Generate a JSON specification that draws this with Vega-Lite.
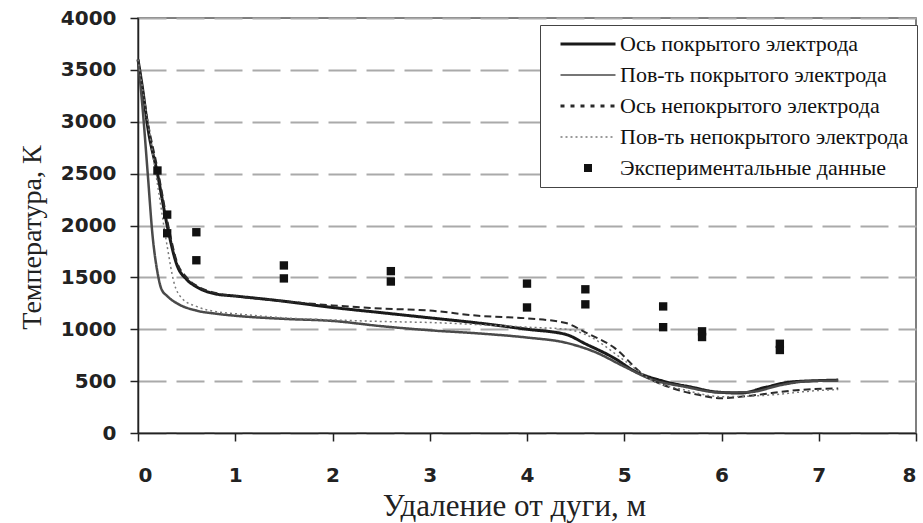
{
  "$schema": "https://vega.github.io/schema/vega-lite/v6.json",
  "autosize": {"type": "none"},
  "width": 778,
  "height": 415,
  "padding": {"left": 138, "top": 18, "right": 7, "bottom": 90},
  "background": "white",
  "config": {
    "view": {"stroke": "#555", "strokeWidth": 1.5},
    "axis": {
      "labelFont": "DejaVu Sans",
      "labelFontWeight": "bold",
      "labelFontSize": 20,
      "labelColor": "#222",
      "titleFont": "Liberation Serif",
      "titleFontWeight": "normal",
      "titleFontSize": 28,
      "titleColor": "#222",
      "domainColor": "#222",
      "domainWidth": 1.5,
      "tickColor": "#222",
      "tickWidth": 1.5,
      "tickSize": 8
    }
  },
  "datasets": {
    "curves": [
      {"series": "Ось покрытого электрода", "x": 0, "T": 3600},
      {"series": "Ось покрытого электрода", "x": 0.05, "T": 3300},
      {"series": "Ось покрытого электрода", "x": 0.1, "T": 2950},
      {"series": "Ось покрытого электрода", "x": 0.2, "T": 2500},
      {"series": "Ось покрытого электрода", "x": 0.3, "T": 2000},
      {"series": "Ось покрытого электрода", "x": 0.4, "T": 1620},
      {"series": "Ось покрытого электрода", "x": 0.5, "T": 1480},
      {"series": "Ось покрытого электрода", "x": 0.6, "T": 1410},
      {"series": "Ось покрытого электрода", "x": 0.8, "T": 1340},
      {"series": "Ось покрытого электрода", "x": 1.0, "T": 1320},
      {"series": "Ось покрытого электрода", "x": 1.5, "T": 1270},
      {"series": "Ось покрытого электрода", "x": 2.0, "T": 1210},
      {"series": "Ось покрытого электрода", "x": 2.5, "T": 1160},
      {"series": "Ось покрытого электрода", "x": 3.0, "T": 1110},
      {"series": "Ось покрытого электрода", "x": 3.5, "T": 1060},
      {"series": "Ось покрытого электрода", "x": 4.0, "T": 1000},
      {"series": "Ось покрытого электрода", "x": 4.4, "T": 950},
      {"series": "Ось покрытого электрода", "x": 4.6, "T": 860},
      {"series": "Ось покрытого электрода", "x": 4.9, "T": 720},
      {"series": "Ось покрытого электрода", "x": 5.1, "T": 600},
      {"series": "Ось покрытого электрода", "x": 5.4, "T": 500},
      {"series": "Ось покрытого электрода", "x": 5.7, "T": 440},
      {"series": "Ось покрытого электрода", "x": 5.95, "T": 395},
      {"series": "Ось покрытого электрода", "x": 6.2, "T": 385},
      {"series": "Ось покрытого электрода", "x": 6.45, "T": 440},
      {"series": "Ось покрытого электрода", "x": 6.7, "T": 490},
      {"series": "Ось покрытого электрода", "x": 7.0, "T": 505},
      {"series": "Ось покрытого электрода", "x": 7.2, "T": 510},

      {"series": "Пов-ть покрытого электрода", "x": 0, "T": 3600},
      {"series": "Пов-ть покрытого электрода", "x": 0.05, "T": 3100},
      {"series": "Пов-ть покрытого электрода", "x": 0.1, "T": 2500},
      {"series": "Пов-ть покрытого электрода", "x": 0.15, "T": 1900},
      {"series": "Пов-ть покрытого электрода", "x": 0.2, "T": 1550},
      {"series": "Пов-ть покрытого электрода", "x": 0.24, "T": 1390},
      {"series": "Пов-ть покрытого электрода", "x": 0.3, "T": 1320},
      {"series": "Пов-ть покрытого электрода", "x": 0.4, "T": 1250},
      {"series": "Пов-ть покрытого электрода", "x": 0.6, "T": 1180},
      {"series": "Пов-ть покрытого электрода", "x": 0.8, "T": 1150},
      {"series": "Пов-ть покрытого электрода", "x": 1.0, "T": 1130},
      {"series": "Пов-ть покрытого электрода", "x": 1.5, "T": 1100},
      {"series": "Пов-ть покрытого электрода", "x": 2.0, "T": 1080},
      {"series": "Пов-ть покрытого электрода", "x": 2.5, "T": 1030},
      {"series": "Пов-ть покрытого электрода", "x": 3.0, "T": 990},
      {"series": "Пов-ть покрытого электрода", "x": 3.5, "T": 960},
      {"series": "Пов-ть покрытого электрода", "x": 4.0, "T": 920},
      {"series": "Пов-ть покрытого электрода", "x": 4.4, "T": 870},
      {"series": "Пов-ть покрытого электрода", "x": 4.7, "T": 780},
      {"series": "Пов-ть покрытого электрода", "x": 5.0, "T": 640},
      {"series": "Пов-ть покрытого электрода", "x": 5.3, "T": 510},
      {"series": "Пов-ть покрытого электрода", "x": 5.6, "T": 450},
      {"series": "Пов-ть покрытого электрода", "x": 6.0, "T": 390},
      {"series": "Пов-ть покрытого электрода", "x": 6.3, "T": 395},
      {"series": "Пов-ть покрытого электрода", "x": 6.6, "T": 460},
      {"series": "Пов-ть покрытого электрода", "x": 6.9, "T": 500},
      {"series": "Пов-ть покрытого электрода", "x": 7.2, "T": 505},

      {"series": "Ось непокрытого электрода", "x": 0, "T": 3600},
      {"series": "Ось непокрытого электрода", "x": 0.05, "T": 3300},
      {"series": "Ось непокрытого электрода", "x": 0.1, "T": 3000},
      {"series": "Ось непокрытого электрода", "x": 0.2, "T": 2550},
      {"series": "Ось непокрытого электрода", "x": 0.3, "T": 2050},
      {"series": "Ось непокрытого электрода", "x": 0.4, "T": 1650},
      {"series": "Ось непокрытого электрода", "x": 0.5, "T": 1500},
      {"series": "Ось непокрытого электрода", "x": 0.6, "T": 1420},
      {"series": "Ось непокрытого электрода", "x": 0.8, "T": 1350},
      {"series": "Ось непокрытого электрода", "x": 1.0, "T": 1320},
      {"series": "Ось непокрытого электрода", "x": 1.5, "T": 1270},
      {"series": "Ось непокрытого электрода", "x": 2.0, "T": 1230},
      {"series": "Ось непокрытого электрода", "x": 2.5, "T": 1200},
      {"series": "Ось непокрытого электрода", "x": 3.0, "T": 1180},
      {"series": "Ось непокрытого электрода", "x": 3.5, "T": 1130},
      {"series": "Ось непокрытого электрода", "x": 4.0, "T": 1105},
      {"series": "Ось непокрытого электрода", "x": 4.4, "T": 1060},
      {"series": "Ось непокрытого электрода", "x": 4.6, "T": 970},
      {"series": "Ось непокрытого электрода", "x": 4.9, "T": 820},
      {"series": "Ось непокрытого электрода", "x": 5.2, "T": 560},
      {"series": "Ось непокрытого электрода", "x": 5.5, "T": 430},
      {"series": "Ось непокрытого электрода", "x": 5.75, "T": 370},
      {"series": "Ось непокрытого электрода", "x": 6.0, "T": 335},
      {"series": "Ось непокрытого электрода", "x": 6.3, "T": 360},
      {"series": "Ось непокрытого электрода", "x": 6.8, "T": 415},
      {"series": "Ось непокрытого электрода", "x": 7.2, "T": 430},

      {"series": "Пов-ть непокрытого электрода", "x": 0, "T": 3600},
      {"series": "Пов-ть непокрытого электрода", "x": 0.1, "T": 3000},
      {"series": "Пов-ть непокрытого электрода", "x": 0.2, "T": 2400},
      {"series": "Пов-ть непокрытого электрода", "x": 0.3, "T": 1800},
      {"series": "Пов-ть непокрытого электрода", "x": 0.37, "T": 1450},
      {"series": "Пов-ть непокрытого электрода", "x": 0.45, "T": 1300},
      {"series": "Пов-ть непокрытого электрода", "x": 0.6, "T": 1220},
      {"series": "Пов-ть непокрытого электрода", "x": 0.8, "T": 1170},
      {"series": "Пов-ть непокрытого электрода", "x": 1.0, "T": 1150},
      {"series": "Пов-ть непокрытого электрода", "x": 1.5, "T": 1110},
      {"series": "Пов-ть непокрытого электрода", "x": 2.0, "T": 1090},
      {"series": "Пов-ть непокрытого электрода", "x": 2.5, "T": 1075},
      {"series": "Пов-ть непокрытого электрода", "x": 3.0, "T": 1065},
      {"series": "Пов-ть непокрытого электрода", "x": 3.5, "T": 1045},
      {"series": "Пов-ть непокрытого электрода", "x": 4.0, "T": 1020},
      {"series": "Пов-ть непокрытого электрода", "x": 4.4, "T": 1000},
      {"series": "Пов-ть непокрытого электрода", "x": 4.6, "T": 950},
      {"series": "Пов-ть непокрытого электрода", "x": 5.0, "T": 700},
      {"series": "Пов-ть непокрытого электрода", "x": 5.3, "T": 500},
      {"series": "Пов-ть непокрытого электрода", "x": 5.6, "T": 420},
      {"series": "Пов-ть непокрытого электрода", "x": 6.0, "T": 350},
      {"series": "Пов-ть непокрытого электрода", "x": 6.4, "T": 360},
      {"series": "Пов-ть непокрытого электрода", "x": 7.0, "T": 410},
      {"series": "Пов-ть непокрытого электрода", "x": 7.2, "T": 420}
    ],
    "experiment": [
      {"series": "Экспериментальные данные", "x": 0.2, "T": 2530},
      {"series": "Экспериментальные данные", "x": 0.3, "T": 2105},
      {"series": "Экспериментальные данные", "x": 0.3, "T": 1925},
      {"series": "Экспериментальные данные", "x": 0.6, "T": 1935},
      {"series": "Экспериментальные данные", "x": 0.6, "T": 1665},
      {"series": "Экспериментальные данные", "x": 1.5, "T": 1615},
      {"series": "Экспериментальные данные", "x": 1.5, "T": 1490},
      {"series": "Экспериментальные данные", "x": 2.6, "T": 1560},
      {"series": "Экспериментальные данные", "x": 2.6, "T": 1460},
      {"series": "Экспериментальные данные", "x": 4.0, "T": 1440},
      {"series": "Экспериментальные данные", "x": 4.0, "T": 1210},
      {"series": "Экспериментальные данные", "x": 4.6, "T": 1385},
      {"series": "Экспериментальные данные", "x": 4.6, "T": 1240},
      {"series": "Экспериментальные данные", "x": 5.4, "T": 1220},
      {"series": "Экспериментальные данные", "x": 5.4, "T": 1020},
      {"series": "Экспериментальные данные", "x": 5.8, "T": 980},
      {"series": "Экспериментальные данные", "x": 5.8, "T": 925},
      {"series": "Экспериментальные данные", "x": 6.6, "T": 860},
      {"series": "Экспериментальные данные", "x": 6.6, "T": 800}
    ]
  },
  "encoding": {
    "x": {
      "field": "x", "type": "quantitative",
      "scale": {"domain": [0, 8], "nice": false, "zero": false},
      "axis": {
        "title": "Удаление от дуги, м",
        "values": [0, 1, 2, 3, 4, 5, 6, 7, 8],
        "format": "d",
        "grid": false,
        "labelPadding": 24,
        "titleFontSize": 31,
        "titleX": 376,
        "titleY": 82,
        "titleBaseline": "alphabetic",
        "titleAnchor": "middle",
        "titleAlign": "center"
      }
    },
    "y": {
      "field": "T", "type": "quantitative",
      "scale": {"domain": [0, 4000], "nice": false},
      "axis": {
        "title": "Температура, К",
        "values": [0, 500, 1000, 1500, 2000, 2500, 3000, 3500, 4000],
        "format": "d",
        "grid": true,
        "gridColor": "#aaa",
        "gridWidth": 2,
        "gridDash": [28, 10],
        "labelPadding": 14,
        "titleX": -106,
        "titleY": 219,
        "titleBaseline": "middle",
        "titleAlign": "center"
      }
    },
    "color": {
      "field": "series", "type": "nominal",
      "scale": {
        "domain": ["Ось покрытого электрода", "Пов-ть покрытого электрода", "Ось непокрытого электрода", "Пов-ть непокрытого электрода", "Экспериментальные данные"],
        "range": ["#1a1a1a", "#4a4a4a", "#2a2a2a", "#7a7a7a", "#111111"]
      },
      "legend": {
        "title": null,
        "orient": "none",
        "legendX": 402,
        "legendY": 7,
        "direction": "vertical",
        "strokeColor": "#444",
        "fillColor": "white",
        "padding": 8,
        "symbolSize": 100,
        "symbolOffset": 29,
        "labelOffset": 21,
        "labelFont": "Liberation Serif",
        "labelFontSize": 22,
        "labelColor": "#111",
        "labelLimit": 400,
        "rowPadding": 9,
        "encode": {
          "symbols": {
            "update": {
              "shape": {"signal": "datum.value === 'Экспериментальные данные' ? 'square' : 'stroke'"},
              "size": {"signal": "datum.value === 'Экспериментальные данные' ? 64 : 3025"},
              "strokeDash": {"signal": "datum.value === 'Ось непокрытого электрода' ? [4, 6] : datum.value === 'Пов-ть непокрытого электрода' ? [2, 3] : [1, 0]"},
              "strokeWidth": {"signal": "datum.value === 'Ось покрытого электрода' || datum.value === 'Ось непокрытого электрода' ? 3 : datum.value === 'Экспериментальные данные' ? 0 : 1.5"},
              "fill": {"signal": "datum.value === 'Экспериментальные данные' ? '#111' : 'transparent'"},
              "stroke": {"signal": "datum.value === 'Пов-ть непокрытого электрода' ? '#777' : '#222'"},
              "opacity": {"value": 1}
            }
          }
        }
      }
    }
  },
  "layer": [
    {
      "data": {"name": "curves"},
      "mark": {"type": "line", "interpolate": "monotone"},
      "encoding": {
        "strokeDash": {
          "field": "series", "type": "nominal", "legend": null,
          "scale": {
            "domain": ["Ось покрытого электрода", "Пов-ть покрытого электрода", "Ось непокрытого электрода", "Пов-ть непокрытого электрода"],
            "range": [[1, 0], [1, 0], [7, 4], [2, 3]]
          }
        },
        "strokeWidth": {
          "field": "series", "type": "nominal", "legend": null,
          "scale": {
            "domain": ["Ось покрытого электрода", "Пов-ть покрытого электрода", "Ось непокрытого электрода", "Пов-ть непокрытого электрода"],
            "range": [3, 1.5, 2.5, 1.5]
          }
        }
      }
    },
    {
      "data": {"name": "experiment"},
      "mark": {"type": "square", "size": 70, "opacity": 1, "filled": true}
    }
  ]
}
